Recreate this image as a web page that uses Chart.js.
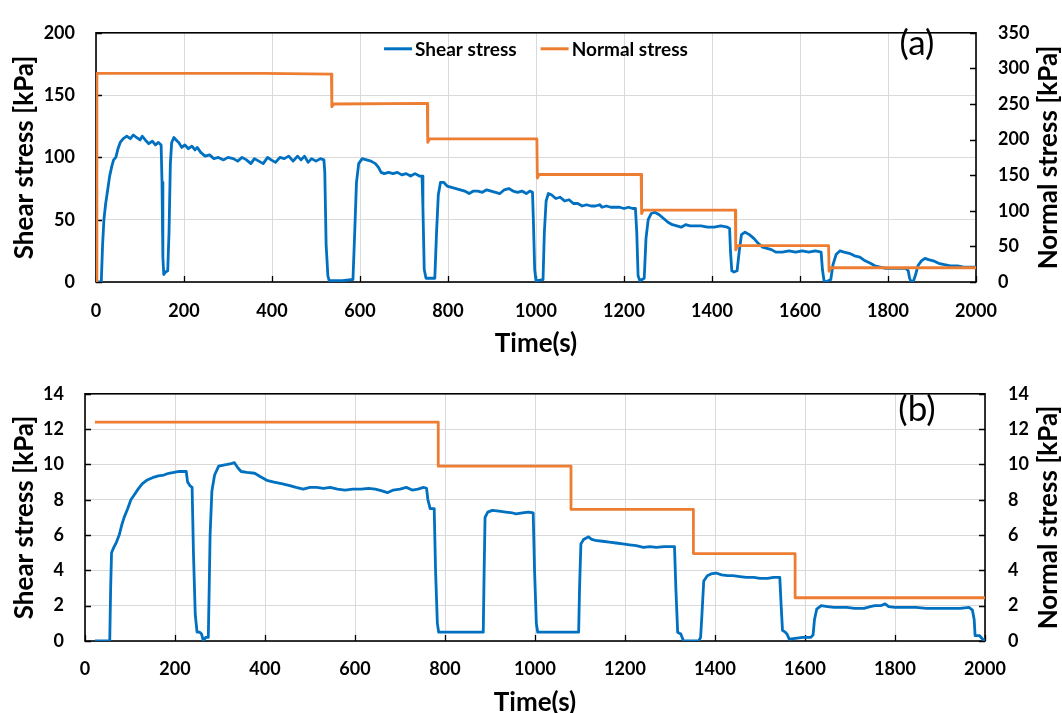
<!DOCTYPE html>
<html><head><meta charset="utf-8">
<script src="https://cdn.jsdelivr.net/npm/chart.js@4.4.0/dist/chart.umd.min.js"></script>
<style>
html,body{margin:0;padding:0;background:#fff;overflow:hidden;width:1062px;height:713px;}
#wa{position:absolute;left:0;top:0;width:1062px;height:360px;}
#wb{position:absolute;left:0;top:360px;width:1062px;height:360px;}
</style></head><body>
<div id="wa"><canvas id="ca" width="1062" height="360"></canvas></div>
<div id="wb"><canvas id="cb" width="1062" height="360"></canvas></div>
<script>
// ---------- DATA ----------
const xTickLabels = ['0','200','400','600','800','1000','1200','1400','1600','1800','2000'];
const seriesNames = ['Shear stress', 'Normal stress'];

// Panel (a)
const timeShearA = [0,8,12,15,18,22,27,31,36,40,45,50,55,62,70,78,85,92,100,105,112,120,128,135,142,148,150,152,154,158,163,166,169,172,177,182,188,195,202,210,218,225,230,238,248,258,268,278,290,300,312,322,332,342,352,360,370,380,390,398,408,418,428,438,448,458,466,474,482,490,500,510,518,520,523,527,530,560,584,588,592,597,605,615,625,635,642,648,655,665,675,685,695,705,715,725,735,741,743,746,750,770,774,778,783,790,798,808,818,828,838,848,858,868,878,888,898,908,918,928,938,948,958,968,978,986,992,994,997,1000,1016,1019,1023,1028,1035,1045,1055,1065,1075,1085,1095,1105,1115,1125,1135,1145,1150,1160,1170,1180,1190,1200,1210,1220,1226,1229,1232,1236,1246,1250,1255,1262,1270,1280,1290,1300,1310,1320,1330,1340,1350,1360,1375,1390,1405,1420,1435,1440,1442,1445,1450,1457,1462,1467,1475,1485,1495,1505,1515,1525,1535,1545,1560,1575,1590,1605,1620,1635,1648,1651,1655,1664,1670,1675,1682,1691,1700,1712,1724,1736,1748,1760,1770,1782,1795,1810,1825,1840,1846,1849,1853,1858,1862,1868,1876,1884,1892,1903,1915,1928,1942,1958,1972,1986,2000];
const shearA = [0,0,0,30,50,63,75,85,93,98,100,107,112,115,117,115,118,116,114,117,114,111,113,110,112,110,80,20,6,8,9,40,95,112,116,114,112,108,110,107,109,106,108,104,101,102,99,100,98,100,99,97,100,98,95,99,97,95,100,98,96,100,99,101,97,101,98,101,96,99,97,99,98,88,30,5,1,1,2,40,80,95,99,98,97,95,92,88,87,88,87,88,86,87,85,87,85,85,60,10,3,3,40,70,80,80,77,76,75,74,73,71,73,73,72,74,73,72,71,74,75,73,72,73,71,73,72,50,10,1,2,40,65,71,70,67,68,65,66,63,63,61,62,61,61,62,60,61,60,60,60,59,60,59,59,40,5,1,3,35,50,55,56,54,51,48,46,45,44,46,45,45,45,44,44,45,44,43,25,9,8,9,25,38,40,38,35,31,28,27,26,24,24,25,24,25,24,25,24,10,0,1,2,14,22,25,24,23,21,20,17,15,13,12,11,11,11,11,9,3,0,1,5,13,17,19,18,17,15,14,13,13,12,12,12];
const timeNormalA = [0,2,380,535,536,540,753,754,758,1002,1003,1007,1239,1240,1244,1453,1454,1458,1665,1666,1670,2000];
const normalA     = [0,293,293,292,246,250,251,196,201,201,146,151,151,96,101,101,45,51,51,15,20,20];

// Panel (b)
const timeShearB = [22,55,57,59,64,70,76,82,87,95,102,110,118,127,137,150,163,175,186,198,209,218,225,228,233,238,241,245,249,255,259,263,268,274,276,278,282,288,297,305,316,325,332,340,347,360,377,390,404,420,439,455,469,485,500,515,530,545,561,578,595,614,630,645,660,672,685,700,714,727,740,752,759,762,767,776,779,783,786,830,885,887,889,895,905,920,935,950,958,972,985,996,999,1003,1006,1050,1097,1099,1102,1108,1115,1119,1126,1134,1150,1165,1180,1195,1210,1225,1241,1255,1270,1287,1300,1310,1313,1317,1324,1330,1345,1364,1368,1371,1375,1383,1391,1402,1415,1428,1440,1455,1470,1486,1500,1517,1530,1544,1547,1550,1556,1560,1565,1578,1595,1613,1618,1621,1626,1636,1650,1665,1680,1693,1710,1731,1745,1755,1768,1778,1786,1800,1820,1846,1870,1900,1923,1945,1965,1972,1976,1978,1988,1995,2000];
const shearB = [0,0,3,5,5.3,5.6,6,6.6,7,7.5,8,8.3,8.6,8.9,9.1,9.25,9.35,9.4,9.5,9.55,9.6,9.6,9.6,9.0,8.8,8.7,5,1.5,0.5,0.5,0.4,0,0.2,0.2,3,6,8.5,9.4,9.9,9.95,10,10.05,10.1,9.8,9.6,9.55,9.5,9.3,9.1,9.0,8.9,8.8,8.7,8.6,8.7,8.7,8.65,8.7,8.6,8.55,8.6,8.6,8.65,8.6,8.5,8.4,8.55,8.6,8.7,8.55,8.6,8.7,8.65,8.0,7.5,7.5,4,1,0.5,0.5,0.5,4,7.0,7.3,7.4,7.35,7.3,7.25,7.2,7.25,7.3,7.25,4,1,0.5,0.5,0.5,3,5.5,5.75,5.85,5.9,5.75,5.7,5.65,5.6,5.55,5.5,5.45,5.4,5.3,5.35,5.3,5.35,5.35,5.35,3,0.5,0.4,0,0,0,0.2,1.5,3.4,3.7,3.8,3.85,3.75,3.7,3.7,3.65,3.6,3.6,3.55,3.55,3.6,3.6,2,0.6,0.5,0.4,0.1,0.15,0.2,0.2,0.35,1.2,1.8,2.0,1.95,1.9,1.9,1.9,1.85,1.85,1.95,2.0,2.0,2.1,1.95,1.9,1.9,1.9,1.85,1.85,1.85,1.85,1.9,1.75,1.2,0.3,0.3,0.1,0];
const timeNormalB = [22,785,785,1080,1080,1352,1352,1578,1578,2000];
const normalB     = [12.4,12.4,9.9,9.9,7.45,7.45,4.95,4.95,2.45,2.45];

// ---------- helpers ----------
const FONT = "Lato, 'Liberation Sans', sans-serif";
const BLUE = '#0070C0', ORANGE = '#ED7D31', GRID = '#d9d9d9';
const pts = (xs, ys) => xs.map((x, i) => ({x: x, y: ys[i]}));

const framePlugin = {
  id: 'frame',
  beforeDatasetsDraw(chart) {
    const {ctx, chartArea: a, scales} = chart;
    ctx.save();
    ctx.strokeStyle = '#000';
    ctx.lineWidth = 1.3;
    ctx.beginPath();
    scales.x.ticks.forEach(t => { const p = Math.round(scales.x.getPixelForValue(t.value)) + 0.5; ctx.moveTo(p, a.bottom); ctx.lineTo(p, a.bottom - 6); });
    scales.y.ticks.forEach(t => { const p = Math.round(scales.y.getPixelForValue(t.value)) + 0.5; ctx.moveTo(a.left, p); ctx.lineTo(a.left + 6, p); });
    scales.y1.ticks.forEach(t => { const p = Math.round(scales.y1.getPixelForValue(t.value)) + 0.5; ctx.moveTo(a.right, p); ctx.lineTo(a.right - 6, p); });
    ctx.stroke();
    ctx.lineWidth = 1.6;
    ctx.strokeRect(a.left, a.top, a.right - a.left, a.bottom - a.top);
    ctx.restore();
  }
};

const extrasPlugin = {
  id: 'extras',
  afterDraw(chart, args, o) {
    const {ctx, chartArea: a} = chart;
    ctx.save();
    ctx.fillStyle = '#000';
    // right axis title (reads bottom-to-top)
    ctx.save();
    ctx.font = 'bold 26px ' + FONT;
    ctx.translate(o.rightTitleX, (a.top + a.bottom) / 2);
    ctx.rotate(-Math.PI / 2);
    ctx.textAlign = 'center'; ctx.textBaseline = 'middle';
    ctx.fillText(o.rightTitle, 0, 0);
    ctx.restore();
    // panel label
    ctx.font = '35px ' + FONT;
    ctx.textAlign = 'center'; ctx.textBaseline = 'middle';
    ctx.fillText(o.panel, o.panelX, o.panelY);
    // legend
    if (o.legend) {
      ctx.font = 'bold 19px ' + FONT;
      const ds = chart.data.datasets;
      const lineW = 28, gap = 3, between = 24;
      const widths = ds.map(d => ctx.measureText(d.label).width);
      let total = 0;
      widths.forEach((w, i) => { total += lineW + gap + w + (i < widths.length - 1 ? between : 0); });
      let x = (a.left + a.right) / 2 - total / 2;
      const y = a.top + 16;
      ds.forEach((d, i) => {
        ctx.strokeStyle = d.borderColor; ctx.lineWidth = 3;
        ctx.beginPath(); ctx.moveTo(x, y); ctx.lineTo(x + lineW, y); ctx.stroke();
        x += lineW + gap;
        ctx.textAlign = 'left'; ctx.textBaseline = 'middle'; ctx.fillStyle = '#000';
        ctx.fillText(d.label, x, y + 1);
        x += widths[i] + between;
      });
    }
    ctx.restore();
  }
};

function makeChart(canvasId, cfg) {
  const tickFont = {family: FONT, size: 18, weight: 'bold'};
  const titleFont = {family: FONT, size: 26, weight: 'bold'};
  return new Chart(document.getElementById(canvasId), {
    type: 'line',
    data: {
      datasets: [
        {label: seriesNames[0], data: cfg.shear, yAxisID: 'y', borderColor: BLUE, backgroundColor: BLUE, borderWidth: 2.8, order: 2},
        {label: seriesNames[1], data: cfg.normal, yAxisID: 'y1', borderColor: ORANGE, backgroundColor: ORANGE, borderWidth: 2.8, order: 1}
      ]
    },
    options: {
      responsive: false, animation: false, devicePixelRatio: 1,
      elements: {point: {radius: 0}, line: {tension: 0, borderJoinStyle: 'round'}},
      layout: {padding: {top: cfg.padTop, left: 0, right: 0, bottom: 0}},
      plugins: {
        legend: {display: false}, tooltip: {enabled: false},
        extras: {rightTitle: 'Normal stress [kPa]', rightTitleX: 1049, panel: cfg.panel, panelX: 917, panelY: cfg.panelY, legend: cfg.legend}
      },
      scales: {
        x: {
          type: 'linear', min: 0, max: 2000,
          afterBuildTicks: s => { s.ticks = xTickLabels.map(v => ({value: Number(v)})); },
          ticks: {font: tickFont, color: '#000', padding: cfg.xPad, maxRotation: 0, autoSkip: false, callback: (v, i) => xTickLabels[i]},
          grid: {color: GRID, lineWidth: 1, drawTicks: false},
          border: {display: false},
          title: {display: true, text: 'Time(s)', font: titleFont, color: '#000', padding: {top: 0, bottom: cfg.xTitlePad}},
          afterFit: s => { s.height = cfg.xHeight; }
        },
        y: {
          position: 'left', min: 0, max: cfg.yMax, ticks: {stepSize: cfg.yStep, font: tickFont, color: '#000', padding: 21},
          grid: {color: GRID, lineWidth: 1, drawTicks: false},
          border: {display: false},
          title: {display: true, text: 'Shear stress [kPa]', font: titleFont, color: '#000', padding: {top: 9, bottom: 0}},
          afterFit: s => { s.width = cfg.leftW; }
        },
        y1: {
          position: 'right', min: 0, max: cfg.y1Max, ticks: {stepSize: cfg.y1Step, font: tickFont, color: '#000', padding: cfg.rPad},
          grid: {drawOnChartArea: false, drawTicks: false},
          border: {display: false},
          afterFit: s => { s.width = cfg.rightW; }
        }
      }
    },
    plugins: [framePlugin, extrasPlugin]
  });
}

makeChart('ca', {
  shear: pts(timeShearA, shearA), normal: pts(timeNormalA, normalA),
  yMax: 200, yStep: 50, y1Max: 350, y1Step: 50,
  padTop: 24, xHeight: 78, leftW: 96, rightW: 86, xPad: 18, xTitlePad: 1, rPad: 22,
  panel: '(a)', panelY: 44, legend: true
});
makeChart('cb', {
  shear: pts(timeShearB, shearB), normal: pts(timeNormalB, normalB),
  yMax: 14, yStep: 2, y1Max: 14, y1Step: 2,
  padTop: 29, xHeight: 79, leftW: 85, rightW: 77, xPad: 17, xTitlePad: 2, rPad: 23,
  panel: '(b)', panelY: 50, legend: false
});
</script>
</body></html>
